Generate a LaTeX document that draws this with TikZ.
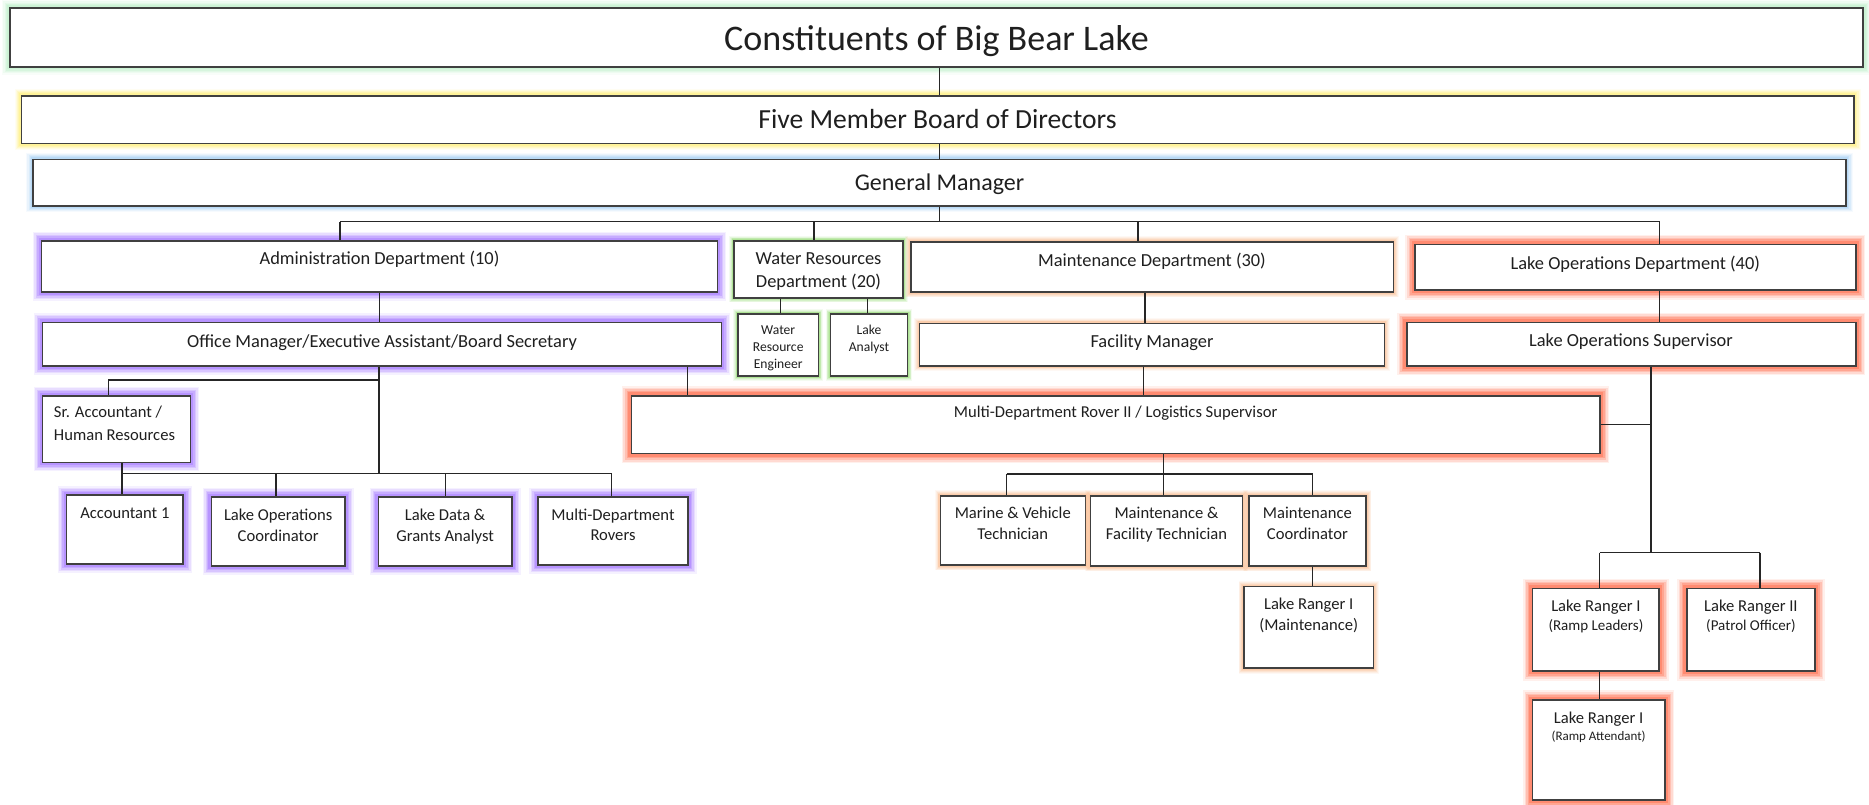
\documentclass[tikz,border=0pt]{standalone}
\usepackage{fontspec}
\setmainfont{Carlito}
\usetikzlibrary{fit}
\definecolor{gTitle}{HTML}{B8F0C4}
\definecolor{gBoard}{HTML}{FFF070}
\definecolor{gGM}{HTML}{9CCCF4}
\definecolor{gPurple}{HTML}{9A66FF}
\definecolor{gGreen}{HTML}{8ED86A}
\definecolor{gOrange}{HTML}{FBB98A}
\definecolor{gRed}{HTML}{FF5A36}
\begin{document}
\begin{tikzpicture}[x=0.5pt,y=-0.5pt,
  box/.style={draw=black!75, line width=0.8pt, fill=white, inner sep=0pt},
  glow/.style n args={2}{preaction={draw=#1, line width=#2*2.1pt, opacity=0.09},
                         preaction={draw=#1, line width=#2*1.75pt, opacity=0.14},
                         preaction={draw=#1, line width=#2*1.4pt, opacity=0.2},
                         preaction={draw=#1, line width=#2*1.05pt, opacity=0.26},
                         preaction={draw=#1, line width=#2*0.7pt, opacity=0.34}},
  tx/.style n args={2}{font=\fontsize{#1pt}{#2pt}\selectfont, text=black!88, anchor=north,
                       inner sep=0pt, align=center, yshift={0.7*#2pt-0.316*#1pt}},
  dept/.style={tx={9.2}{11.7}},
  leaf/.style={tx={8.3}{10.4}},
  conn/.style={draw=black!85, line width=0.55pt}]
\fill[white] (0,0) rectangle (1869,804);
\useasboundingbox (0,0) rectangle (1869,804);

% ---- boxes ----
\node[box, glow={gTitle}{3.8}, fit={(10,8) (1863,66.7)}] (title) {};
\node[box, glow={gBoard}{3.2}, fit={(21.4,95.7) (1854,143.3)}] (board) {};
\node[box, glow={gGM}{3.2}, fit={(33,159.3) (1846,205.7)}] (gm) {};

\node[box, glow={gPurple}{4.2}, fit={(41.6,240.7) (717.5,291.7)}] (admin) {};
\node[box, glow={gGreen}{2.2}, fit={(734,240.7) (903,297.7)}] (wr) {};
\node[box, glow={gOrange}{2.6}, fit={(910.7,241.7) (1393.3,292)}] (md) {};
\node[box, glow={gRed}{4.6}, fit={(1415,244.3) (1855.7,290)}] (lod) {};

\node[box, glow={gPurple}{4.2}, fit={(42.6,322.3) (721.3,365.7)}] (office) {};
\node[box, glow={gGreen}{2.2}, fit={(738,314) (818.3,376)}] (wre) {};
\node[box, glow={gGreen}{2.2}, fit={(830.4,314) (907.6,376)}] (la) {};
\node[box, glow={gOrange}{2.6}, fit={(919.6,323.3) (1384.4,365.7)}] (fm) {};
\node[box, glow={gRed}{4.6}, fit={(1406.7,322.3) (1855.7,365.7)}] (los) {};

\node[box, glow={gPurple}{4.2}, fit={(42.6,395.7) (190.4,462.3)}] (sracc) {};
\node[box, glow={gRed}{4.6}, fit={(631.5,395.7) (1599.7,453.5)}] (rover) {};

\node[box, glow={gPurple}{4.2}, fit={(66.5,495) (183.2,563.7)}] (acc1) {};
\node[box, glow={gPurple}{4.2}, fit={(211.4,496.7) (344.9,566)}] (loc) {};
\node[box, glow={gPurple}{4.2}, fit={(378.4,496.7) (511.8,566)}] (ldg) {};
\node[box, glow={gPurple}{4.2}, fit={(538,496.7) (688,565)}] (mdr) {};

\node[box, glow={gOrange}{2.6}, fit={(940.3,495.7) (1085.3,565)}] (mv) {};
\node[box, glow={gOrange}{2.6}, fit={(1090.6,495.7) (1242.4,566)}] (mft) {};
\node[box, glow={gOrange}{2.6}, fit={(1248.7,495.7) (1366,566)}] (mc) {};
\node[box, glow={gOrange}{2.6}, fit={(1244,586.5) (1373.4,668.2)}] (lrm) {};

\node[box, glow={gRed}{4.6}, fit={(1532.6,588.3) (1659.2,671)}] (lrl) {};
\node[box, glow={gRed}{4.6}, fit={(1686.7,588.3) (1815.1,671)}] (lr2) {};
\node[box, glow={gRed}{4.6}, fit={(1532.6,700) (1664.7,800)}] (lra) {};

% ---- texts ----
\node[tx={18}{22}] (title-t) at (936.5,38.5) {\strut Constituents of Big Bear Lake};
\node[tx={13.8}{17}] (board-t) at (937.5,119) {\strut Five Member Board of Directors};
\node[tx={12}{15}] (gm-t) at (939.5,182.5) {\strut General Manager};

\node[dept] (admin-t) at (379.5,258.7) {\strut Administration Department (10)};
\node[dept] (wr-t) at (818.5,258.3) {\strut Water Resources\\Department (20)};
\node[dept] (md-t) at (1152,259.8) {\strut Maintenance Department (30)};
\node[dept] (lod-t) at (1635.3,262.8) {\strut Lake Operations Department (40)};

\node[dept] (office-t) at (382,340.8) {\strut Office Manager/Executive Assistant/Board Secretary};
\node[tx={6.8}{8.4}] (wre-t) at (778.2,329.7) {\strut Water\\Resource\\Engineer};
\node[tx={6.8}{8.4}] (la-t) at (869,329.7) {\strut Lake\\Analyst};
\node[dept] (fm-t) at (1152,341.7) {\strut Facility Manager};
\node[dept] (los-t) at (1631,340.3) {\strut Lake Operations Supervisor};

\node[tx={8.3}{11.35}, anchor=north west, align=left] (sracc-t) at (53.6,412) {\strut Sr. Accountant /\\Human Resources};
\node[leaf] (rover-t) at (1115.6,412.3) {\strut Multi-Department Rover II / Logistics Supervisor};

\node[leaf] (acc1-t) at (124.9,512.8) {\strut Accountant 1};
\node[leaf] (loc-t) at (278.2,514.7) {\strut Lake Operations\\Coordinator};
\node[leaf] (ldg-t) at (445.1,514.7) {\strut Lake Data \&\\Grants Analyst};
\node[leaf] (mdr-t) at (613,514.5) {\strut Multi-Department\\Rovers};

\node[leaf] (mv-t) at (1012.8,513.3) {\strut Marine \& Vehicle\\Technician};
\node[leaf] (mft-t) at (1166.5,513.3) {\strut Maintenance \&\\Facility Technician};
\node[leaf] (mc-t) at (1307.4,513.3) {\strut Maintenance\\Coordinator};
\node[leaf] (lrm-t) at (1308.7,604.2) {\strut Lake Ranger I\\(Maintenance)};

\node[leaf] (lrl-t) at (1595.9,606) {\strut Lake Ranger I};
\node[tx={7.5}{9}] (lrl-s) at (1595.9,625.5) {\strut (Ramp Leaders)};
\node[leaf] (lr2-t) at (1750.9,606) {\strut Lake Ranger II};
\node[tx={7.5}{9}] (lr2-s) at (1750.9,625.5) {\strut (Patrol Officer)};
\node[leaf] (lra-t) at (1598.6,717.5) {\strut Lake Ranger I};
\node[tx={6.5}{8}] (lra-s) at (1598.6,735.7) {\strut (Ramp Attendant)};

% ---- connectors ----
\draw[conn] (title.south -| gm.north) -- (board.north -| gm.north);
\draw[conn] (board.south -| gm.north) -- (gm.north);
\coordinate (j0) at (939.5,221.7);
\draw[conn] (gm.south) -- (j0);
\coordinate (bA) at (340,221.7);
\coordinate (bW) at (814,221.7);
\coordinate (bM) at (1138,221.7);
\coordinate (bL) at (1659.5,221.7);
\draw[conn] (bA) -- (bL);
\draw[conn] (bA) -- (bA |- admin.north);
\draw[conn] (bW) -- (bW |- wr.north);
\draw[conn] (bM) -- (bM |- md.north);
\draw[conn] (bL) -- (bL |- lod.north);

% administration
\draw[conn] (admin.south) -- (admin.south |- office.north);
\coordinate (ob) at (379,473.3);
\coordinate (os) at (108.6,380);
\draw[conn] (office.south -| ob) -- (ob);
\draw[conn] (os -| ob) -- (os) -- (os |- sracc.north);
\coordinate (oR) at (687.5,380);
\draw[conn] (office.south -| oR) -- (rover.north -| oR);
\coordinate (aL) at (122,473.3);
\coordinate (a2) at (276,473.3);
\coordinate (a3) at (445.8,473.3);
\coordinate (aR) at (611.3,473.3);
\draw[conn] (aL) -- (aR);
\draw[conn] (sracc.south -| aL) -- (acc1.north -| aL);
\draw[conn] (a2) -- (a2 |- loc.north);
\draw[conn] (a3) -- (a3 |- ldg.north);
\draw[conn] (aR) -- (aR |- mdr.north);

% water resources
\coordinate (w1) at (780.4,300);
\coordinate (w2) at (867.4,300);
\draw[conn] (wr.south -| w1) -- (wre.north -| w1);
\draw[conn] (wr.south -| w2) -- (la.north -| w2);

% maintenance
\coordinate (m1) at (1145,300);
\coordinate (m2) at (1143.8,380);
\draw[conn] (md.south -| m1) -- (fm.north -| m1);
\draw[conn] (fm.south -| m2) -- (rover.north -| m2);
\coordinate (r0) at (1163.5,474);
\coordinate (rL) at (1006.7,474);
\coordinate (rR) at (1312.6,474);
\draw[conn] (rover.south -| r0) -- (r0);
\draw[conn] (rL) -- (rR);
\draw[conn] (rL) -- (rL |- mv.north);
\draw[conn] (r0) -- (r0 |- mft.north);
\draw[conn] (rR) -- (rR |- mc.north);
\draw[conn] (mc.south -| rR) -- (lrm.north -| rR);

% lake operations
\draw[conn] (lod.south -| bL) -- (los.north -| bL);
\coordinate (s0) at (1651,552.5);
\draw[conn] (los.south -| s0) -- (s0);
\draw[conn] (rover.east) -- (rover.east -| s0);
\coordinate (sL) at (1599.6,552.5);
\coordinate (sR) at (1760,552.5);
\draw[conn] (sL) -- (sR);
\draw[conn] (sL) -- (sL |- lrl.north);
\draw[conn] (sR) -- (sR |- lr2.north);
\draw[conn] (lrl.south -| sL) -- (lra.north -| sL);
\end{tikzpicture}
\end{document}
